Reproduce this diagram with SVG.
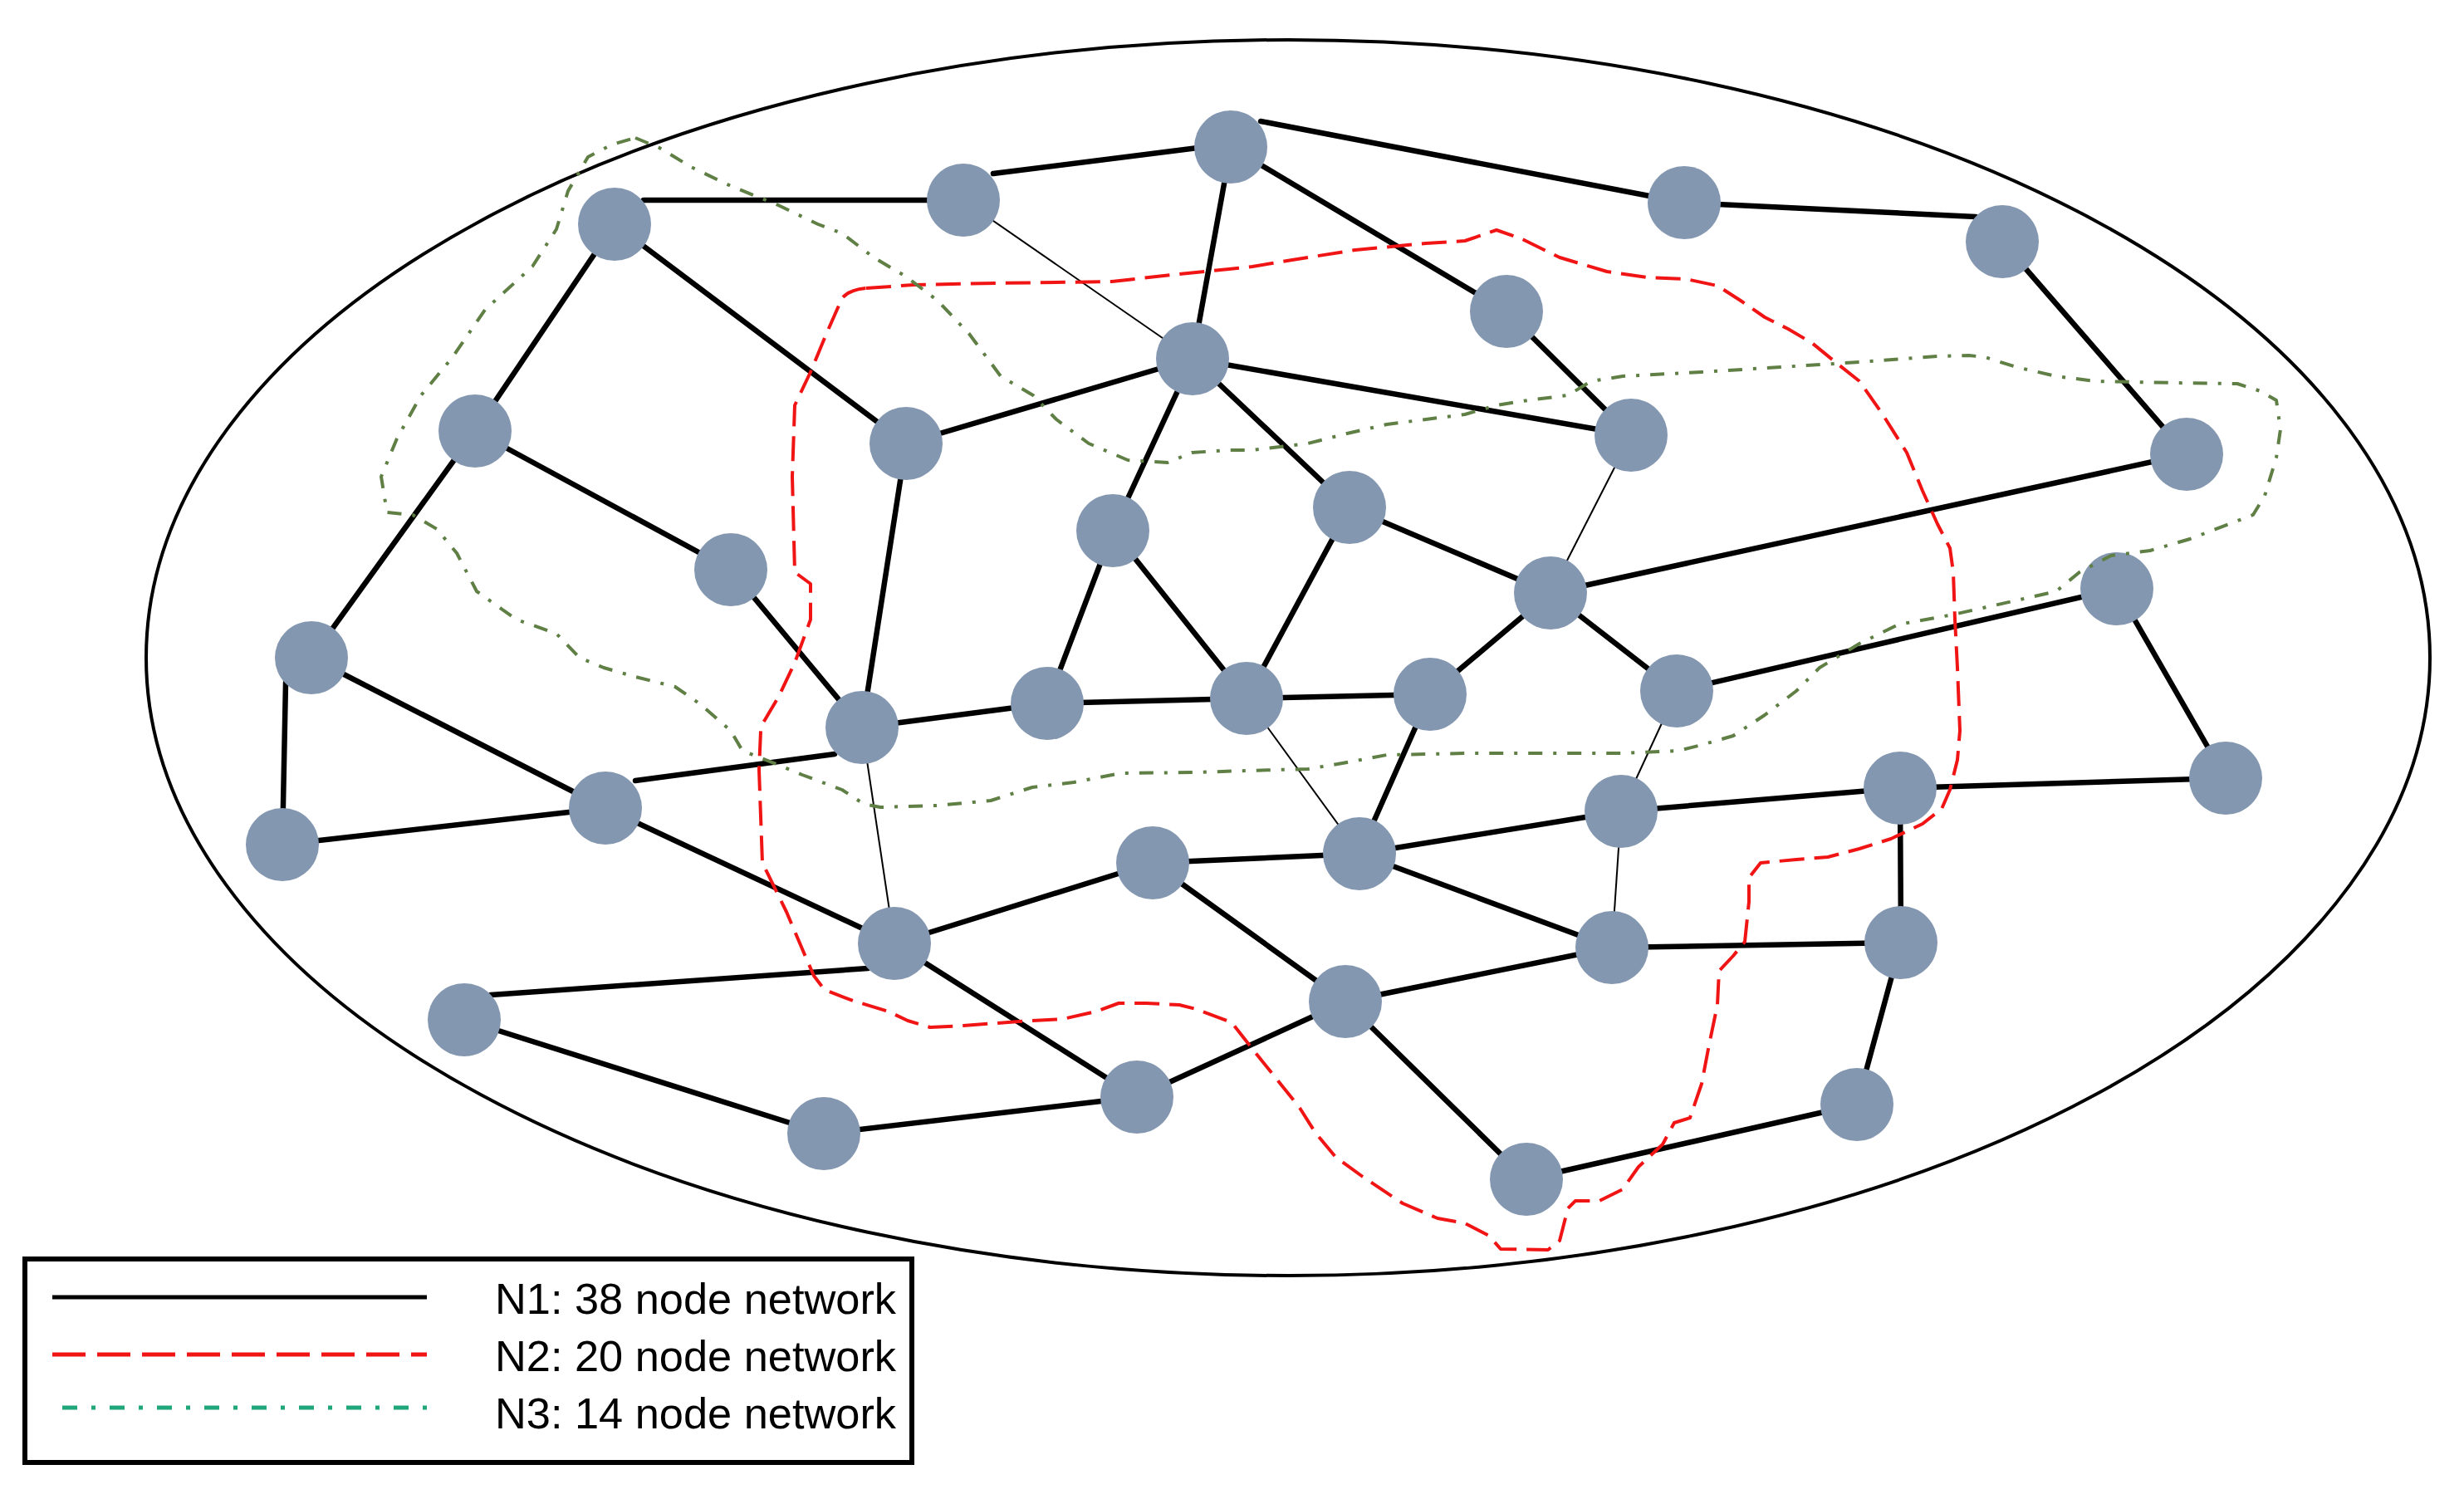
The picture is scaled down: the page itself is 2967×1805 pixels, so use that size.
<svg xmlns="http://www.w3.org/2000/svg" width="2967" height="1805" viewBox="0 0 2967 1805">
<style>
.nd{fill:#8497B0;stroke:none}
.e{stroke:#000;stroke-width:6.5;stroke-linecap:round;fill:none}
.t{stroke:#000;stroke-width:2;fill:none}
.n2{fill:none;stroke:#f01414;stroke-width:4;stroke-dasharray:30 12;stroke-linejoin:round}
.n3{fill:none;stroke:#5f7f45;stroke-width:4;stroke-dasharray:17 13 4 13;stroke-linejoin:round}
.lg{font-family:"Liberation Sans",Arial,sans-serif;font-size:52px;fill:#000}
</style>
<rect width="2967" height="1805" fill="#fff"/>
<ellipse id="boundary" cx="1551" cy="792" rx="1375" ry="744" fill="none" stroke="#000" stroke-width="4"/>
<g id="connectors">
<line class="e" x1="775" y1="241" x2="1160" y2="241"/>
<line class="e" x1="1196" y1="209" x2="1482" y2="173"/>
<line class="e" x1="1518" y1="146" x2="2028" y2="244"/>
<line class="e" x1="2028" y1="244" x2="2379" y2="261"/>
<line class="t" x1="1160" y1="241" x2="1436" y2="432"/>
<line class="e" x1="1482" y1="177" x2="1436" y2="432"/>
<line class="e" x1="1482" y1="177" x2="1814" y2="375"/>
<line class="e" x1="1814" y1="375" x2="1964" y2="524"/>
<line class="e" x1="1436" y1="432" x2="1964" y2="524"/>
<line class="e" x1="740" y1="270" x2="572" y2="519"/>
<line class="e" x1="740" y1="270" x2="1091" y2="534"/>
<line class="e" x1="1091" y1="534" x2="1436" y2="432"/>
<line class="e" x1="1436" y1="432" x2="1340" y2="639"/>
<line class="e" x1="1436" y1="432" x2="1625" y2="611"/>
<line class="e" x1="2411" y1="291" x2="2633" y2="547"/>
<line class="t" x1="1964" y1="524" x2="1867" y2="714"/>
<line class="e" x1="2633" y1="547" x2="1867" y2="714"/>
<line class="e" x1="1625" y1="611" x2="1867" y2="714"/>
<line class="e" x1="572" y1="519" x2="880" y2="686"/>
<line class="e" x1="572" y1="519" x2="375" y2="792"/>
<line class="e" x1="880" y1="686" x2="1038" y2="876"/>
<line class="e" x1="1091" y1="534" x2="1038" y2="876"/>
<line class="e" x1="1340" y1="639" x2="1261" y2="847"/>
<line class="e" x1="1340" y1="639" x2="1501" y2="841"/>
<line class="e" x1="1625" y1="611" x2="1501" y2="841"/>
<line class="e" x1="1038" y1="876" x2="1261" y2="847"/>
<line class="e" x1="1261" y1="847" x2="1501" y2="841"/>
<line class="e" x1="1501" y1="841" x2="1722" y2="836"/>
<line class="e" x1="1722" y1="836" x2="1867" y2="714"/>
<line class="e" x1="1867" y1="714" x2="2019" y2="832"/>
<line class="e" x1="2019" y1="832" x2="2549" y2="709"/>
<line class="e" x1="2549" y1="709" x2="2680" y2="937"/>
<line class="e" x1="344" y1="822" x2="340" y2="1017"/>
<line class="e" x1="375" y1="792" x2="729" y2="973"/>
<line class="e" x1="340" y1="1017" x2="729" y2="973"/>
<line class="e" x1="765" y1="940" x2="1005" y2="908"/>
<line class="t" x1="1501" y1="841" x2="1637" y2="1028"/>
<line class="e" x1="1722" y1="836" x2="1637" y2="1028"/>
<line class="t" x1="2019" y1="832" x2="1952" y2="977"/>
<line class="e" x1="1637" y1="1028" x2="1952" y2="977"/>
<line class="e" x1="1952" y1="977" x2="2288" y2="949"/>
<line class="e" x1="2288" y1="949" x2="2680" y2="937"/>
<line class="e" x1="2288" y1="949" x2="2289" y2="1135"/>
<line class="t" x1="1952" y1="977" x2="1941" y2="1141"/>
<line class="e" x1="1637" y1="1028" x2="1941" y2="1141"/>
<line class="e" x1="1941" y1="1141" x2="2289" y2="1135"/>
<line class="e" x1="2289" y1="1135" x2="2236" y2="1330"/>
<line class="e" x1="2236" y1="1330" x2="1838" y2="1420"/>
<line class="e" x1="1620" y1="1206" x2="1838" y2="1420"/>
<line class="e" x1="1388" y1="1039" x2="1620" y2="1206"/>
<line class="e" x1="1620" y1="1206" x2="1941" y2="1141"/>
<line class="e" x1="1388" y1="1039" x2="1637" y2="1028"/>
<line class="e" x1="1077" y1="1136" x2="1388" y2="1039"/>
<line class="t" x1="1038" y1="876" x2="1077" y2="1136"/>
<line class="e" x1="729" y1="973" x2="1077" y2="1136"/>
<line class="e" x1="1077" y1="1136" x2="1369" y2="1321"/>
<line class="e" x1="591" y1="1198" x2="1045" y2="1166"/>
<line class="e" x1="559" y1="1228" x2="992" y2="1365"/>
<line class="e" x1="992" y1="1365" x2="1369" y2="1321"/>
<line class="e" x1="1369" y1="1321" x2="1620" y2="1206"/>
</g>
<g id="nodes">
<g id="nA"><circle class="nd" cx="740" cy="270" r="44"/></g>
<g id="nB"><circle class="nd" cx="1160" cy="241" r="44"/></g>
<g id="nC"><circle class="nd" cx="1482" cy="177" r="44"/></g>
<g id="nD"><circle class="nd" cx="2028" cy="244" r="44"/></g>
<g id="nE"><circle class="nd" cx="2411" cy="291" r="44"/></g>
<g id="nF"><circle class="nd" cx="1814" cy="375" r="44"/></g>
<g id="nG"><circle class="nd" cx="1436" cy="432" r="44"/></g>
<g id="nH"><circle class="nd" cx="572" cy="519" r="44"/></g>
<g id="nI"><circle class="nd" cx="1091" cy="534" r="44"/></g>
<g id="nJ"><circle class="nd" cx="1964" cy="524" r="44"/></g>
<g id="nK"><circle class="nd" cx="2633" cy="547" r="44"/></g>
<g id="nL"><circle class="nd" cx="1340" cy="639" r="44"/></g>
<g id="nM"><circle class="nd" cx="1625" cy="611" r="44"/></g>
<g id="nN"><circle class="nd" cx="880" cy="686" r="44"/></g>
<g id="nO"><circle class="nd" cx="1867" cy="714" r="44"/></g>
<g id="nP"><circle class="nd" cx="2549" cy="709" r="44"/></g>
<g id="nQ"><circle class="nd" cx="375" cy="792" r="44"/></g>
<g id="nR"><circle class="nd" cx="1038" cy="876" r="44"/></g>
<g id="nS"><circle class="nd" cx="1261" cy="847" r="44"/></g>
<g id="nT"><circle class="nd" cx="1501" cy="841" r="44"/></g>
<g id="nU"><circle class="nd" cx="1722" cy="836" r="44"/></g>
<g id="nV"><circle class="nd" cx="2019" cy="832" r="44"/></g>
<g id="nW"><circle class="nd" cx="340" cy="1017" r="44"/></g>
<g id="nX"><circle class="nd" cx="729" cy="973" r="44"/></g>
<g id="nY"><circle class="nd" cx="2680" cy="937" r="44"/></g>
<g id="nZ"><circle class="nd" cx="2288" cy="949" r="44"/></g>
<g id="nAA"><circle class="nd" cx="1952" cy="977" r="44"/></g>
<g id="nAB"><circle class="nd" cx="1637" cy="1028" r="44"/></g>
<g id="nAC"><circle class="nd" cx="1388" cy="1039" r="44"/></g>
<g id="nAD"><circle class="nd" cx="1077" cy="1136" r="44"/></g>
<g id="nAE"><circle class="nd" cx="1941" cy="1141" r="44"/></g>
<g id="nAF"><circle class="nd" cx="2289" cy="1135" r="44"/></g>
<g id="nAG"><circle class="nd" cx="559" cy="1228" r="44"/></g>
<g id="nAH"><circle class="nd" cx="1620" cy="1206" r="44"/></g>
<g id="nAI"><circle class="nd" cx="1369" cy="1321" r="44"/></g>
<g id="nAJ"><circle class="nd" cx="992" cy="1365" r="44"/></g>
<g id="nAK"><circle class="nd" cx="2236" cy="1330" r="44"/></g>
<g id="nAL"><circle class="nd" cx="1838" cy="1420" r="44"/></g>
</g>
<g id="N2-boundary">
<path class="n2" d="M1043,347 L1100,343 1200,341 1339,339 1420,330 1480,324 1508,321 1556,313 1632,301 1717,293 1764,290 1802,277 1831,287 1878,310 1935,327 1983,334 2030,336 2068,344 2096,362 2125,382 2153,396 2182,413 2210,436 2239,459 2267,499 2296,545 2315,591 2333,631 2348,660 2352,689 2354,746 2357,804 2360,880 2357,915 2348,951 2338,974 2315,992 2277,1010 2239,1022 2201,1032 2163,1035 2120,1039 2106,1057 2106,1086 2101,1134 2087,1151 2070,1169 2068,1210 2058,1258 2049,1305 2035,1346 2016,1352 2002,1378 1973,1405 1954,1432 1926,1446 1897,1446 1888,1455 1878,1494 1864,1505 1807,1504 1793,1488 1764,1473 1731,1467 1689,1449 1641,1417 1608,1393 1584,1364 1565,1334 1537,1299 1508,1263 1483,1231 1440,1215 1420,1210 1380,1208 1347,1208 1320,1218 1280,1227 1227,1230 1160,1235 1120,1237 1093,1229 1070,1218 1027,1205 993,1192 980,1175 967,1145 947,1098 918,1039 914,927 916,880 918,872 938,838 957,798 976,746 976,703 957,689 954,574 957,488 976,448 995,402 1014,359 Q1022,349 1043,347 Z"/>
</g>
<g id="N3-boundary">
<path class="n3" d="M765,166 L794,178 832,201 880,224 937,247 985,270 1014,281 1052,310 1091,333 1129,362 1167,402 1205,453 1244,476 1272,505 1311,534 1358,554 1406,557 1435,545 1480,542 1508,542 1575,534 1622,522 1670,511 1717,505 1764,499 1802,488 1840,482 1888,476 1916,459 1954,453 2049,448 2144,442 2239,436 2333,429 2371,428 2390,430 2428,442 2476,453 2523,459 2618,461 2694,462 2722,471 2741,482 2746,517 2741,551 2727,597 2713,620 2684,631 2637,649 2589,663 2542,669 2504,689 2476,712 2428,723 2352,740 2286,752 2239,775 2191,804 2163,832 2125,861 2087,886 2049,897 2021,904 1954,907 1859,907 1764,907 1670,909 1622,918 1575,926 1500,928 1440,930 1350,931 1293,942 1243,948 1193,964 1127,970 1060,972 1040,968 1014,951 966,933 937,921 894,904 880,880 871,872 842,847 813,827 765,815 727,804 698,792 670,763 622,746 574,712 550,666 526,637 497,620 466,617 459,574 478,528 507,476 545,430 584,373 641,321 670,276 684,230 708,189 737,174 Z"/>
</g>
<g id="legend">
<rect x="30" y="1516" width="1068" height="245" fill="#fff" stroke="#000" stroke-width="6"/>
<line x1="63" y1="1562" x2="514" y2="1562" stroke="#000" stroke-width="5"/>
<line x1="63" y1="1631" x2="514" y2="1631" stroke="#f01414" stroke-width="5" stroke-dasharray="40 14"/>
<line x1="75" y1="1695" x2="527" y2="1695" stroke="#1fa67a" stroke-width="5" stroke-dasharray="18 17 5 17"/>
<text class="lg" x="596" y="1582" textLength="483" lengthAdjust="spacingAndGlyphs">N1: 38 node network</text>
<text class="lg" x="596" y="1651" textLength="483" lengthAdjust="spacingAndGlyphs">N2: 20 node network</text>
<text class="lg" x="596" y="1720" textLength="483" lengthAdjust="spacingAndGlyphs">N3: 14 node network</text>
</g>
</svg>
